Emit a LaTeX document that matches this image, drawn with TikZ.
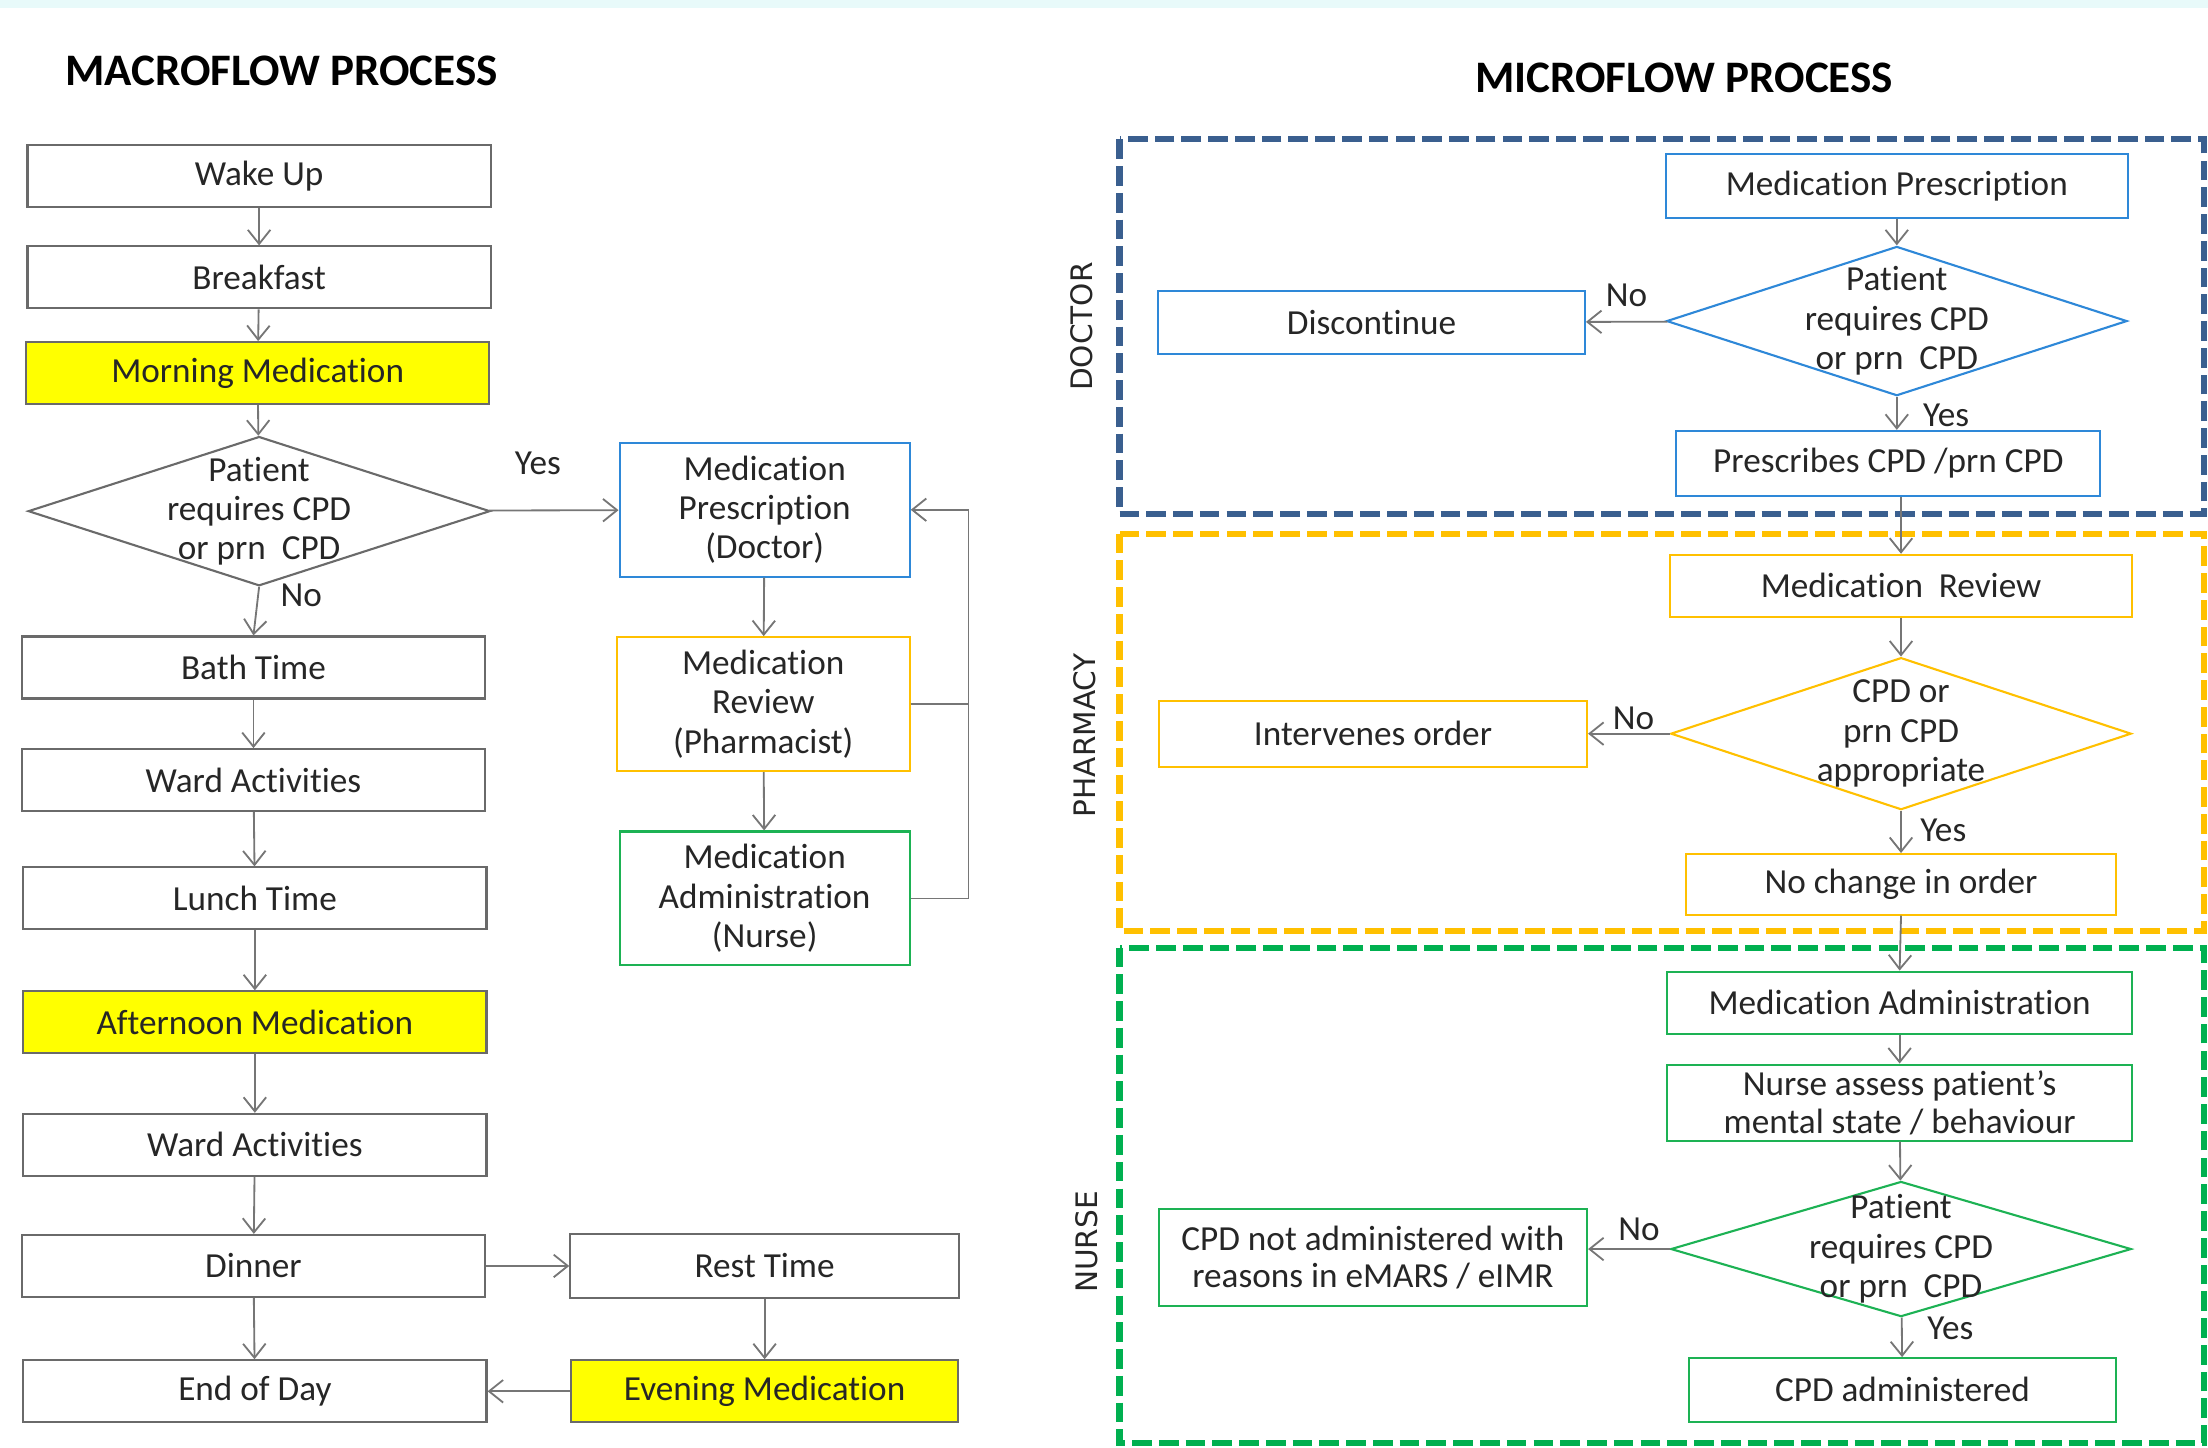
\documentclass[tikz,border=0pt]{standalone}
\usepackage{fontspec}
\setmainfont{Carlito}[Ligatures=NoCommon]
\newfontfamily\lanefont{DejaVu Sans}
\usepackage{tikz}
\usetikzlibrary{arrows.meta,shapes.geometric,positioning}

\definecolor{txt}{HTML}{262626}
\definecolor{linegray}{HTML}{6A6A6A}
\definecolor{arrowgray}{HTML}{767676}
\definecolor{medyellow}{HTML}{FFFF00}
\definecolor{docblue}{HTML}{2E88D8}
\definecolor{pharmamber}{HTML}{FFC000}
\definecolor{nursegreen}{HTML}{1DB254}
\definecolor{lanedoc}{HTML}{3A5F8F}
\definecolor{lanepharm}{HTML}{FFC000}
\definecolor{lanenurse}{HTML}{00B050}
\definecolor{topcyan}{HTML}{E8FAFA}

\tikzset{
  box/.style={draw=linegray, line width=1.5pt, fill=white, minimum width=329pt,
    minimum height=44pt, inner sep=0pt, align=center, text=txt},
  medbox/.style={box, fill=medyellow},
  dec/.style={diamond, draw=linegray, line width=1.5pt, inner sep=0pt,
    minimum width=328pt, minimum height=106pt},
  flow/.style={draw=arrowgray, line width=1.3pt,
    -{Straight Barb[length=10pt,width=16pt,line width=1.3pt]}},
  plain/.style={draw=arrowgray, line width=1.3pt},
  lane/.style={line width=4.3pt, dash pattern=on 14pt off 5pt},
  lanelabel/.style={font=\lanefont\fontsize{21}{24}\selectfont, text=txt, rotate=90},
  title/.style={font=\bfseries\fontsize{32}{35}\selectfont, text=black},
}

\begin{document}
\begin{tikzpicture}[x=1pt,y=-1pt, font=\fontsize{25}{28}\selectfont, text=txt]
  \useasboundingbox (0,0) rectangle (1568,1028);
  \fill[topcyan] (0,0) rectangle (1568,6);

  % macroflow
  \node[title] (macro) at (200,50) {MACROFLOW PROCESS};
  \node[box] (wake) at (184,125) {Wake Up};
  \node[box] (bfast) at (184,197) {Breakfast};
  \node[medbox] (morn) at (183,265) {Morning Medication};
  \node[dec, label={[align=center, text=txt]center:Patient\\requires CPD\\or prn\ \ CPD}] (ask) at (184,363) {};
  \node[box] (bath) at (180,474) {Bath Time};
  \node[box] (ward) at (180,554) {Ward Activities};
  \node[box] (lunch) at (181,638) {Lunch Time};
  \node[medbox] (aftn) at (181,726) {Afternoon Medication};
  \node[box] (wardb) at (181,813) {Ward Activities};
  \node[box] (dinner) at (180,899) {Dinner};
  \node[box] (eod) at (181,988) {End of Day};
  \node[box, minimum width=276pt, minimum height=45pt] (rest) at (543,899) {Rest Time};
  \node[medbox, minimum width=275pt] (eve) at (543,988) {Evening Medication};

  \node[box, draw=docblue, minimum width=206pt, minimum height=95pt] (presc) at (543,362) {Medication\\Prescription\\(Doctor)};
  \node[box, draw=pharmamber, minimum width=208pt, minimum height=95pt] (review) at (542,500) {Medication\\Review\\(Pharmacist)};
  \node[box, draw=nursegreen, minimum width=206pt, minimum height=95pt] (admin) at (543,638) {Medication\\Administration\\(Nurse)};

  \node (yesa) at (382,329) {Yes};
  \node (noa) at (214,423) {No};

  \draw[flow] (wake) -- (bfast);
  \draw[flow] (bfast) -- (morn);
  \draw[flow] (morn) -- (ask);
  \draw[flow] (ask) -- (presc);
  \draw[flow] (ask.south) -- (bath.north);
  \draw[flow] (bath) -- (ward);
  \draw[flow] (ward) -- (lunch);
  \draw[flow] (lunch) -- (aftn);
  \draw[flow] (aftn) -- (wardb);
  \draw[flow] (wardb) -- (dinner);
  \draw[flow] (dinner) -- (eod);
  \draw[flow] (dinner) -- (rest);
  \draw[flow] (rest) -- (eve);
  \draw[flow] (eve) -- (eod);
  \draw[flow] (presc) -- (review);
  \draw[flow] (review) -- (admin);
  \draw[flow] (admin.east) -- ++(41,0) |- (presc.east);
  \draw[plain] (review.east) -- ++(41,0);

  % microflow
  \node[title] (micro) at (1196,55) {MICROFLOW PROCESS};
  \draw[lane, draw=lanedoc] (795,99) rectangle (1565,365);
  \draw[lane, draw=lanepharm] (795,379) rectangle (1565,661);
  \draw[lane, draw=lanenurse] (795,673) rectangle (1565,1025);
  \node[lanelabel] (ldoc) at (768,232) {DOCTOR};
  \node[lanelabel] (lpharm) at (770,522) {PHARMACY};
  \node[lanelabel] (lnurse) at (772,882) {NURSE};

  % doctor
  \node[box, draw=docblue, minimum width=328pt, minimum height=45pt] (mpresc) at (1347,132) {Medication Prescription};
  \node[dec, draw=docblue, minimum width=327pt, label={[align=center, text=txt]center:Patient\\requires CPD\\or prn\ \ CPD}] (askd) at (1347,228) {};
  \node[box, draw=docblue, minimum width=303pt, minimum height=45pt] (disc) at (974,229) {Discontinue};
  \node[box, draw=docblue, minimum width=301pt, minimum height=46pt] (pcpd) at (1341,329) {Prescribes CPD /prn CPD};
  \node (nod) at (1155,210) {No};
  \node (yesd) at (1382,295) {Yes};

  % pharmacy
  \node[box, draw=pharmamber, minimum width=328pt] (mrev) at (1350,416) {Medication\ \ Review};
  \node[dec, draw=pharmamber, minimum width=327pt, minimum height=108pt, label={[align=center, text=txt]center:CPD or\\prn CPD\\appropriate}] (askp) at (1350,521) {};
  \node[box, draw=pharmamber, minimum width=304pt, minimum height=47pt] (interv) at (975,521) {Intervenes order};
  \node[box, draw=pharmamber, minimum width=305pt, minimum height=43pt] (nochg) at (1350,628) {No change in order};
  \node (nop) at (1160,510) {No};
  \node (yesp) at (1380,590) {Yes};

  % nurse
  \node[box, draw=nursegreen, minimum width=330pt] (madm) at (1349,712) {Medication Administration};
  \node[box, draw=nursegreen, minimum width=330pt, minimum height=54pt, font=\fontsize{25}{27}\selectfont] (assess) at (1349,783) {Nurse assess patient’s\\mental state / behaviour};
  \node[dec, draw=nursegreen, minimum width=327pt, minimum height=96pt, label={[align=center, text=txt]center:Patient\\requires CPD\\or prn\ \ CPD}] (askn) at (1350,887) {};
  \node[box, draw=nursegreen, minimum width=304pt, minimum height=69pt, font=\fontsize{25}{26}\selectfont] (notadm) at (975,893) {CPD not administered with\\reasons in eMARS / eIMR};
  \node[box, draw=nursegreen, minimum width=303pt, minimum height=45pt] (adm) at (1351,987) {CPD administered};
  \node (non) at (1164,873) {No};
  \node (yesn) at (1385,943) {Yes};

  \draw[flow] (mpresc) -- (askd);
  \draw[flow] (askd) -- (disc);
  \draw[flow] (askd.south) -- (askd.south |- pcpd.north);
  \draw[flow] (mrev.north |- pcpd.south) -- (mrev.north);
  \draw[flow] (mrev) -- (askp);
  \draw[flow] (askp) -- (interv);
  \draw[flow] (askp) -- (nochg);
  \draw[flow] (nochg.south) -- (madm.north);
  \draw[flow] (madm) -- (assess);
  \draw[flow] (assess) -- (askn);
  \draw[flow] (askn.west) -- (askn.west -| notadm.east);
  \draw[flow] (askn) -- (adm);
\end{tikzpicture}
\end{document}
